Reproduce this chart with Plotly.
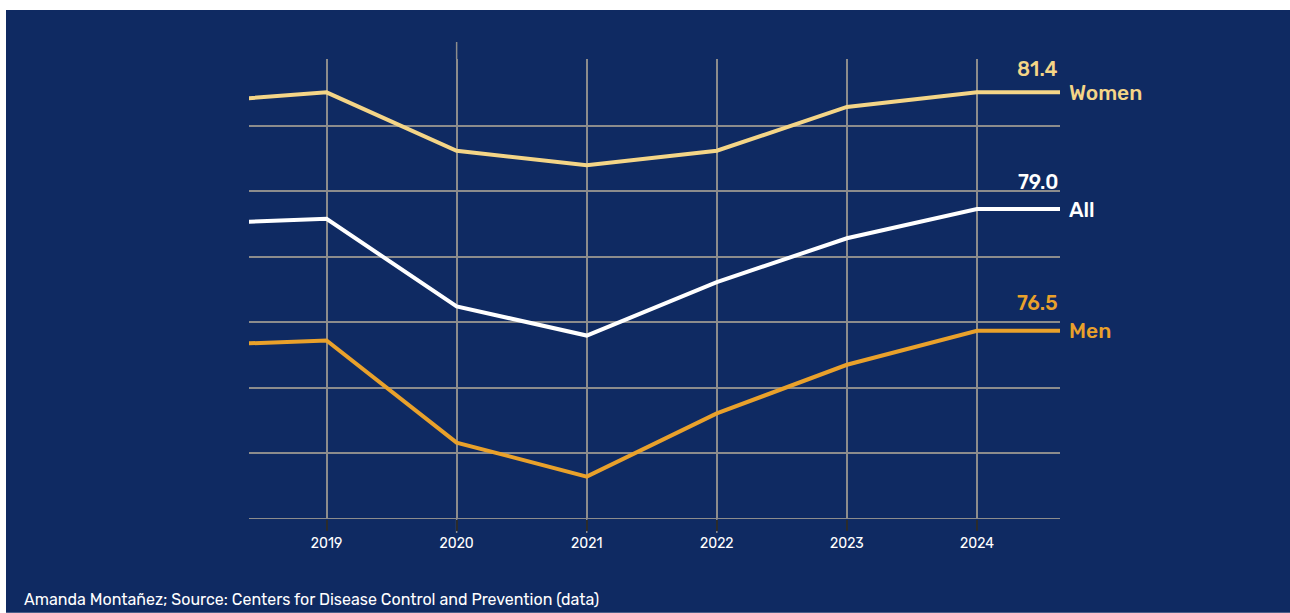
import plotly.graph_objects as go

years = [2018, 2019, 2020, 2021, 2022, 2023, 2024, 2025]
women = [81.2, 81.4, 80.2, 79.9, 80.2, 81.1, 81.4, 81.4]
all_ = [78.7, 78.8, 77.0, 76.4, 77.5, 78.4, 79.0, 79.0]
men = [76.2, 76.3, 74.2, 73.5, 74.8, 75.8, 76.5, 76.5]
tick_years = [2019, 2020, 2021, 2022, 2023, 2024]
series_names = ["Women", "All", "Men"]
end_labels = ["81.4", "79.0", "76.5"]
label_shift = [23, 27, 28]

colors = {"Women": "#f4d587", "All": "#ffffff", "Men": "#e9a12b"}
bg = "#0f2a62"
grid_color = "#8c8c8c"
font_family = "Rubik, Inter, 'Noto Sans', sans-serif"

x_range = [2018.404, 2024.638]
y_bottom, y_step = 72.634, 1.347
y_range = [y_bottom - 0.005, 82.086]
grid_vals = [y_bottom + k * y_step for k in range(7)]

fig = go.Figure()
for name, vals in zip(series_names, [women, all_, men]):
    fig.add_trace(go.Scatter(
        x=years, y=vals, mode="lines", name=name,
        line=dict(color=colors[name], width=4), cliponaxis=True,
        hoverinfo="skip",
    ))

W, H = 1290, 613
ml, mr, mt, mb = 249, 230, 59, 93.7
pw, ph = W - ml - mr, H - mt - mb

annotations = []
for name, vals, lab, sh in zip(series_names, [women, all_, men], end_labels, label_shift):
    annotations.append(dict(
        x=x_range[1], y=vals[6], xref="x", yref="y", text=lab,
        showarrow=False, xanchor="right", yanchor="middle", yshift=sh, xshift=0,
        font=dict(family=font_family, size=20, color=colors[name], weight=500),
    ))
    annotations.append(dict(
        x=x_range[1], y=vals[6], xref="x", yref="y", text=name,
        showarrow=False, xanchor="left", yanchor="middle", xshift=7,
        font=dict(family=font_family, size=21, color=colors[name], weight=500),
    ))
annotations.append(dict(
    x=(22 - ml) / pw, y=(H - mb - 600) / ph, xref="paper", yref="paper",
    text="Amanda Montañez; Source: Centers for Disease Control and Prevention (data)",
    showarrow=False, xanchor="left", yanchor="middle",
    font=dict(family=font_family, size=16, color="#ffffff"),
))

shapes = [
    dict(type="rect", xref="paper", yref="paper",
         x0=(6 - ml) / pw, x1=(W - ml) / pw, y0=(H - mb - H) / ph, y1=(H - mb - 10) / ph,
         fillcolor=bg, line=dict(width=0), layer="below"),
    dict(type="line", xref="x", yref="paper", x0=2020, x1=2020, y0=1, y1=1 + 17 / ph,
         line=dict(color=grid_color, width=1.5), layer="below"),
    dict(type="line", xref="paper", yref="y", x0=0, x1=1, y0=grid_vals[0], y1=grid_vals[0],
         line=dict(color=grid_color, width=1.5), layer="below"),
]
for yr in [2020, 2021, 2022]:
    shapes.append(dict(type="line", xref="x", yref="paper", x0=yr, x1=yr, y0=0, y1=-14 / ph,
                       line=dict(color=grid_color, width=1.5), layer="below"))

fig.update_layout(
    width=W, height=H,
    margin=dict(l=ml, r=mr, t=mt, b=mb, pad=0),
    paper_bgcolor="#ffffff", plot_bgcolor="rgba(0,0,0,0)",
    showlegend=False,
    annotations=annotations,
    shapes=shapes,
    xaxis=dict(range=x_range, tickvals=tick_years, ticktext=[str(y) for y in tick_years],
               showgrid=True, gridcolor=grid_color, gridwidth=1.5, zeroline=False,
               showline=False, ticks="outside", ticklen=11, tickwidth=2, tickcolor="#2b2b2b",
               tickfont=dict(family=font_family, size=14, color="#ffffff"), fixedrange=True),
    yaxis=dict(range=y_range, tickvals=grid_vals, showticklabels=False,
               showgrid=True, gridcolor=grid_color, gridwidth=1.5, zeroline=False,
               showline=False, ticks="", fixedrange=True),
)

fig.write_html("out.html")
